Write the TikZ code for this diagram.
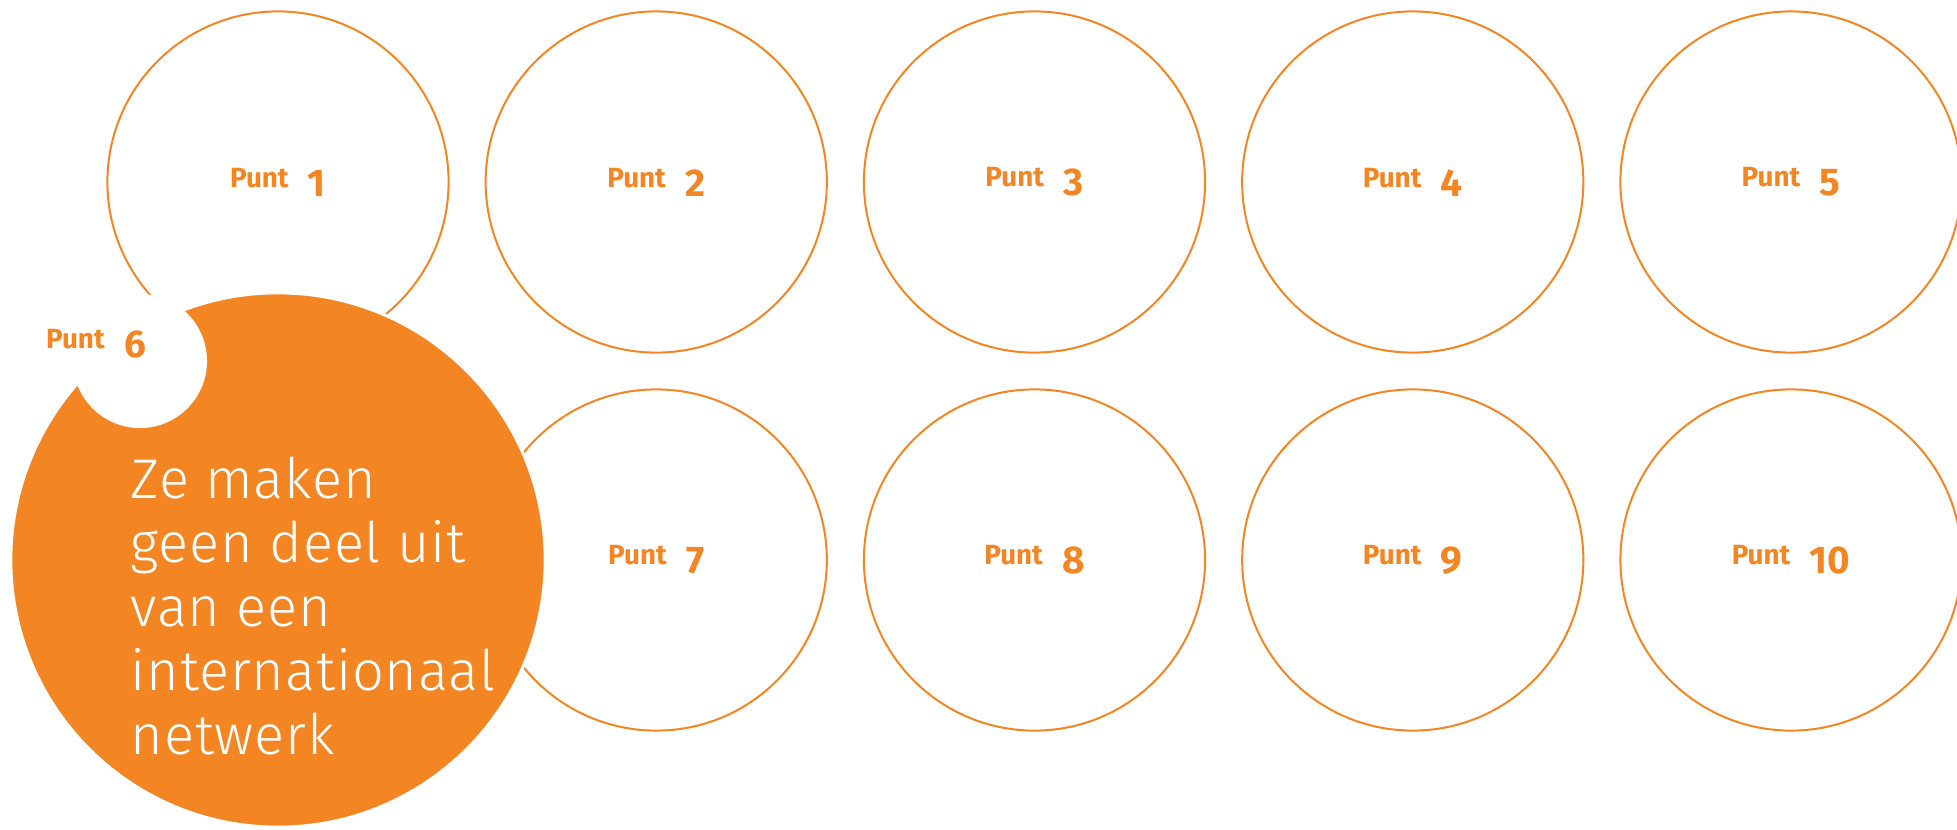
\documentclass[tikz,border=0pt]{standalone}
\usepackage{fontspec}
\setmainfont{Fira Sans}[UprightFont=* Light, BoldFont=* Bold]
\definecolor{oranje}{RGB}{243,134,34}
\newcommand{\punt}[1]{{\bfseries\fontsize{7.9}{9}\selectfont Punt\hspace{5.5pt}\raisebox{-2.6pt}{\fontsize{11}{12}\selectfont #1}}}
\tikzset{
  cirkel/.style={circle, draw=oranje, line width=0.02cm, minimum size=3.41cm, inner sep=0pt, text=oranje},
}

\begin{document}
\begin{tikzpicture}[x=0.01cm,y=0.01cm]
\clip (0,0) rectangle (1957,829);
\def\dx{378.25}
\foreach \n in {1,...,5}
  \node[cirkel] (p\n) at ({278+(\n-1)*\dx},647) {\punt{\n}};
\foreach \n in {7,...,10}
  \node[cirkel] (p\n) at ({278+(\n-6)*\dx},269) {\punt{\n}};
\node[circle, fill=oranje, draw=white, line width=0.03cm, minimum size=5.34cm, inner sep=0pt] (p6) at (278,269) {};
\node[circle, fill=white, minimum size=1.34cm, inner sep=0pt] (wit) at (140,468) {};
\node[text=oranje] (label6) at (96,485) {\punt{6}};
\node[text=white, align=left, anchor=north west, inner sep=0pt, font=\fontsize{15.9}{18.2}\selectfont\addfontfeature{LetterSpace=1.5}] (tekst) at (130,373) {Ze maken\\geen deel uit\\van een\\internationaal\\netwerk};
\end{tikzpicture}
\end{document}
